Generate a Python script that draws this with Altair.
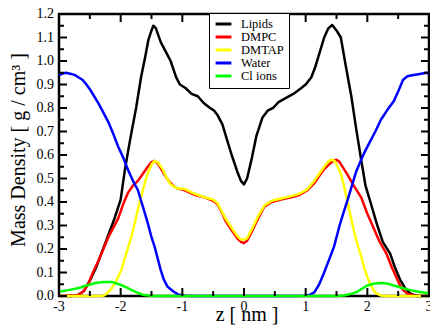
import altair as alt
import pandas as pd

series_names = ["Lipids", "DMPC", "DMTAP", "Water", "Cl ions"]
series_colors = ["#000000", "#ff0000", "#ffff00", "#0000ff", "#00ff00"]

x_major_ticks = [-3, -2, -1, 0, 1, 2, 3]
x_tick_labels = ["-3", "-2", "-1", "0", "1", "2", "3"]
x_minor_ticks = [-2.5, -1.5, -0.5, 0.5, 1.5, 2.5]
y_major_ticks = [0.0, 0.1, 0.2, 0.3, 0.4, 0.5, 0.6, 0.7, 0.8, 0.9, 1.0, 1.1, 1.2]
y_tick_labels = ["0.0", "0.1", "0.2", "0.3", "0.4", "0.5", "0.6", "0.7", "0.8", "0.9",
                 "1.0", "1.1", "1.2"]
y_minor_ticks = [0.05, 0.15, 0.25, 0.35, 0.45, 0.55, 0.65, 0.75, 0.85, 0.95, 1.05, 1.15]
x_title = "z  [ nm ]"
y_title = "Mass Density [ g / cm³ ]"

lipids_z = [-3.0, -2.8, -2.7, -2.6, -2.5, -2.4, -2.3, -2.2, -2.1, -2.0, -1.93, -1.85,
            -1.75, -1.67, -1.6, -1.55, -1.5, -1.47, -1.43, -1.35, -1.25, -1.19, -1.1,
            -1.04, -0.95, -0.85, -0.75, -0.65, -0.55, -0.49, -0.43, -0.35, -0.27, -0.2,
            -0.11, -0.05, 0.0, 0.05, 0.13, 0.2, 0.3, 0.39, 0.47, 0.56, 0.66, 0.8, 0.93,
            1.0, 1.09, 1.15, 1.22, 1.3, 1.37, 1.43, 1.5, 1.57, 1.65, 1.74, 1.82, 1.9,
            1.97, 2.05, 2.15, 2.25, 2.37, 2.45, 2.53, 2.62, 2.7, 2.8, 3.0]
lipids_y = [0.0, 0.0, 0.003, 0.02, 0.065, 0.12, 0.19, 0.26, 0.33, 0.41, 0.54, 0.66,
            0.80, 0.93, 1.02, 1.09, 1.13, 1.15, 1.14, 1.08, 1.03, 1.00, 0.93,
            0.90, 0.885, 0.86, 0.85, 0.82, 0.80, 0.79, 0.77, 0.73, 0.66, 0.60,
            0.53, 0.49, 0.475, 0.50, 0.59, 0.68, 0.76, 0.79, 0.80, 0.825, 0.84, 0.86, 0.885,
            0.90, 0.93, 0.97, 1.03, 1.10, 1.14, 1.153, 1.13, 1.10, 0.98, 0.85, 0.71, 0.58,
            0.47, 0.40, 0.31, 0.23, 0.18, 0.12, 0.07, 0.03, 0.01, 0.0, 0.0]

dmpc_z = [-3.0, -2.7, -2.6, -2.52, -2.45, -2.36, -2.28, -2.2, -2.12, -2.04, -1.96, -1.88,
          -1.8, -1.72, -1.64, -1.56, -1.5, -1.45, -1.4, -1.32, -1.25, -1.19, -1.1, -0.96,
          -0.8, -0.64, -0.5, -0.43, -0.35, -0.3, -0.2, -0.11, -0.05, 0.0, 0.05, 0.12,
          0.23, 0.33, 0.45, 0.6, 0.77, 0.9, 1.03, 1.14, 1.22, 1.3, 1.38, 1.45, 1.5, 1.55,
          1.67, 1.78, 1.9, 2.0, 2.1, 2.2, 2.31, 2.4, 2.47, 2.53, 2.58, 2.65, 2.75, 3.0]
dmpc_y = [0.0, 0.003, 0.02, 0.055, 0.1, 0.15, 0.2, 0.25, 0.29, 0.33, 0.39, 0.44,
          0.47, 0.49, 0.52, 0.55, 0.57, 0.575, 0.565, 0.53, 0.50, 0.48, 0.46, 0.45,
          0.43, 0.42, 0.405, 0.39, 0.35, 0.32, 0.28, 0.245, 0.23, 0.225, 0.235, 0.27,
          0.33, 0.38, 0.40, 0.41, 0.42, 0.43, 0.45, 0.48, 0.51, 0.54, 0.56, 0.575, 0.58, 0.57,
          0.52, 0.47, 0.42, 0.35, 0.29, 0.23, 0.18, 0.12, 0.08, 0.045, 0.025, 0.01, 0.002, 0.0]

dmtap_z = [-3.0, -2.3, -2.25, -2.15, -2.07, -1.99, -1.91, -1.83, -1.77, -1.72, -1.66, -1.6,
           -1.55, -1.5, -1.45, -1.4, -1.32, -1.25, -1.19, -1.1, -0.96, -0.8, -0.64, -0.5,
           -0.43, -0.35, -0.3, -0.2, -0.11, -0.05, 0.0, 0.05, 0.12, 0.23, 0.33, 0.45, 0.6,
           0.77, 0.9, 1.03, 1.14, 1.22, 1.3, 1.36, 1.41, 1.47, 1.52, 1.57, 1.62, 1.67, 1.72,
           1.78, 1.84, 1.9, 1.95, 2.0, 2.05, 2.1, 2.15, 2.22, 2.3, 3.0]
dmtap_y = [0.0, 0.0, 0.005, 0.03, 0.065, 0.11, 0.18, 0.25, 0.31, 0.37, 0.43, 0.49,
           0.53, 0.56, 0.575, 0.57, 0.54, 0.50, 0.475, 0.46, 0.455, 0.435, 0.42, 0.41,
           0.395, 0.355, 0.33, 0.29, 0.255, 0.24, 0.24, 0.245, 0.28, 0.34, 0.385, 0.405, 0.415,
           0.425, 0.435, 0.455, 0.49, 0.52, 0.55, 0.57, 0.58, 0.575, 0.55, 0.52, 0.47, 0.41, 0.35,
           0.28, 0.22, 0.17, 0.12, 0.08, 0.05, 0.025, 0.01, 0.002, 0.0, 0.0]

water_z = [-3.0, -2.95, -2.89, -2.8, -2.74, -2.68, -2.62, -2.57, -2.5, -2.43, -2.36, -2.28,
           -2.2, -2.12, -2.04, -1.96, -1.88, -1.8, -1.72, -1.64, -1.56, -1.5, -1.45, -1.4,
           -1.35, -1.3, -1.24, -1.15, -1.07, -0.95, -0.8, 0.8, 1.0, 1.07, 1.14, 1.22, 1.3,
           1.38, 1.46, 1.55, 1.62, 1.67, 1.75, 1.82, 1.9, 1.97, 2.05, 2.13, 2.22, 2.32, 2.43,
           2.5, 2.58, 2.65, 2.75, 2.85, 2.96, 3.0]
water_y = [0.94, 0.945, 0.95, 0.945, 0.94, 0.93, 0.92, 0.905, 0.88, 0.85, 0.82, 0.78,
           0.74, 0.69, 0.635, 0.59, 0.536, 0.49, 0.45, 0.38, 0.31, 0.25, 0.21, 0.16,
           0.11, 0.07, 0.04, 0.02, 0.007, 0.001, 0.0, 0.0, 0.001, 0.006, 0.015, 0.05, 0.1,
           0.155, 0.21, 0.3, 0.36, 0.40, 0.47, 0.53, 0.58, 0.62, 0.66, 0.70, 0.75, 0.79, 0.83,
           0.87, 0.92, 0.935, 0.94, 0.945, 0.95, 0.945]

cl_z = [-3.0, -2.85, -2.68, -2.55, -2.41, -2.28, -2.15, -2.05, -1.93, -1.82, -1.72, -1.62,
        -1.5, -1.4, 1.5, 1.62, 1.72, 1.83, 1.92, 2.0, 2.1, 2.22, 2.32, 2.43, 2.55, 2.7,
        2.85, 3.0]
cl_y = [0.018, 0.025, 0.034, 0.045, 0.055, 0.06, 0.06, 0.052, 0.04, 0.025, 0.013, 0.004,
        0.001, 0.0, 0.0, 0.002, 0.008, 0.017, 0.032, 0.045, 0.052, 0.055, 0.053, 0.045, 0.035,
        0.025, 0.017, 0.012]

rows = []
for name, zs, ys in [("Lipids", lipids_z, lipids_y), ("DMPC", dmpc_z, dmpc_y),
                     ("DMTAP", dmtap_z, dmtap_y), ("Water", water_z, water_y),
                     ("Cl ions", cl_z, cl_y)]:
    for z, v in zip(zs, ys):
        rows.append({"z": z, "density": v, "series": name})
df = pd.DataFrame(rows)

FONT = "Liberation Serif"
W, H = 370, 282
MAJOR, MINOR = 8, 5

x_scale = alt.Scale(domain=[-3, 3], nice=False)
y_scale = alt.Scale(domain=[0, 1.2], nice=False, zero=False)

lines = alt.Chart(df).mark_line(strokeWidth=2.5, strokeJoin="round").encode(
    x=alt.X("z:Q", scale=x_scale, axis=None),
    y=alt.Y("density:Q", scale=y_scale, axis=None),
    color=alt.Color("series:N", sort=series_names,
                    scale=alt.Scale(domain=series_names, range=series_colors),
                    legend=alt.Legend(title=None, orient="none", legendX=150, legendY=-1,
                                      strokeColor="black", fillColor="white", padding=5,
                                      symbolType="stroke", symbolStrokeWidth=3,
                                      symbolSize=250, labelFont=FONT, labelFontSize=12.5,
                                      labelColor="black", labelOffset=8, rowPadding=0,
                                      clipHeight=12, zindex=1)),
)


def x_ticks_layer(values, at_bottom, size):
    y0 = H if at_bottom else 0
    y1 = H - size if at_bottom else size
    return alt.Chart(pd.DataFrame({"z": values})).mark_rule(
        color="black", strokeWidth=2).encode(
        x=alt.X("z:Q", scale=x_scale, axis=None),
        y=alt.value(y0), y2=alt.value(y1))


def y_ticks_layer(values, at_left, size):
    x0 = 0 if at_left else W
    x1 = size if at_left else W - size
    return alt.Chart(pd.DataFrame({"density": values})).mark_rule(
        color="black", strokeWidth=2).encode(
        y=alt.Y("density:Q", scale=y_scale, axis=None),
        x=alt.value(x0), x2=alt.value(x1))


tick_layers = [
    x_ticks_layer(x_major_ticks, True, MAJOR), x_ticks_layer(x_minor_ticks, True, MINOR),
    x_ticks_layer(x_major_ticks, False, MAJOR), x_ticks_layer(x_minor_ticks, False, MINOR),
    y_ticks_layer(y_major_ticks, True, MAJOR), y_ticks_layer(y_minor_ticks, True, MINOR),
    y_ticks_layer(y_major_ticks, False, MAJOR), y_ticks_layer(y_minor_ticks, False, MINOR),
]

x_labels = alt.Chart(pd.DataFrame({"z": x_major_ticks, "label": x_tick_labels})).mark_text(
    font=FONT, fontSize=14, color="black", baseline="top", align="center").encode(
    x=alt.X("z:Q", scale=x_scale, axis=None),
    y=alt.value(H + 4), text="label:N")

y_labels = alt.Chart(pd.DataFrame({"density": y_major_ticks, "label": y_tick_labels})).mark_text(
    font=FONT, fontSize=14, color="black", baseline="middle", align="right").encode(
    y=alt.Y("density:Q", scale=y_scale, axis=None),
    x=alt.value(-5), text="label:N")

x_title_mark = alt.Chart(pd.DataFrame({"t": [x_title]})).mark_text(
    font=FONT, fontSize=20, color="black", baseline="alphabetic", align="center").encode(
    x=alt.value(188), y=alt.value(H + 25), text="t:N")

y_title_mark = alt.Chart(pd.DataFrame({"t": [y_title]})).mark_text(
    font=FONT, fontSize=20, color="black", baseline="alphabetic", align="center",
    angle=270).encode(
    x=alt.value(-34), y=alt.value(136), text="t:N")

chart = alt.layer(lines, *tick_layers, x_labels, y_labels, x_title_mark,
                  y_title_mark).properties(
    width=W, height=H,
    autosize=alt.AutoSizeParams(type="none"),
    padding={"left": 51, "top": 6, "right": 1, "bottom": 29},
).configure_view(stroke="black", strokeWidth=2.5)

chart.save("out.html", embed_options={"renderer": "svg", "actions": False})
